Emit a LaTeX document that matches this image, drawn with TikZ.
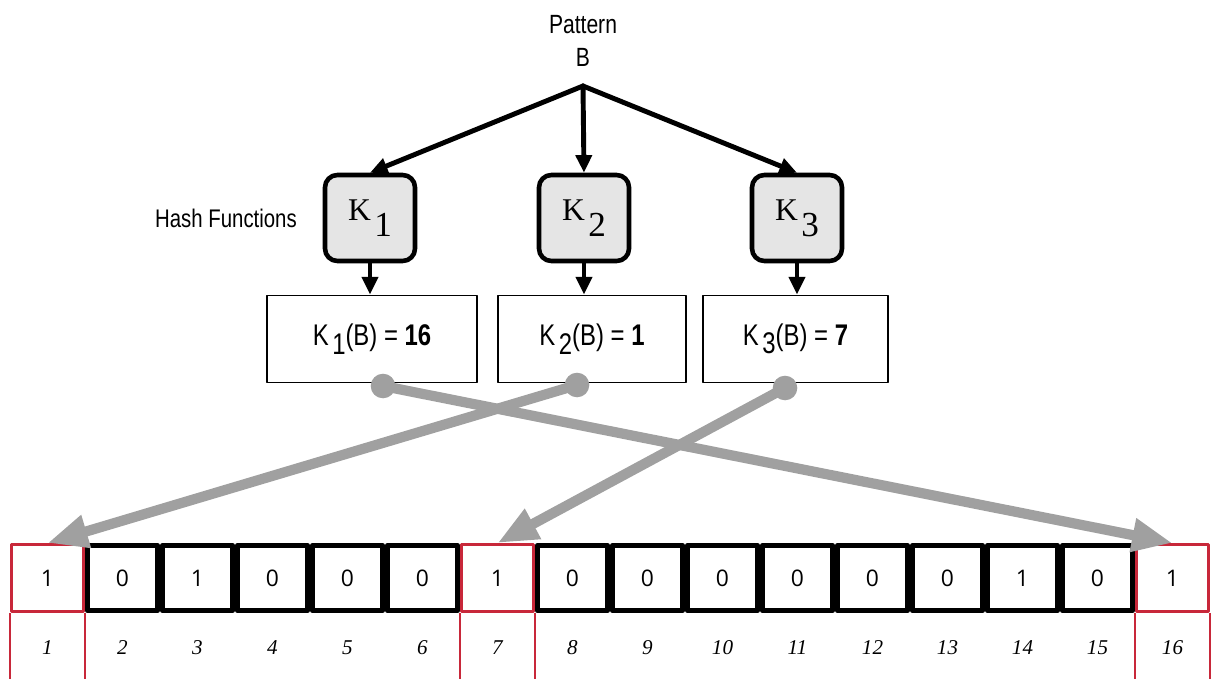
\documentclass[tikz,border=0pt]{standalone}
\usepackage{fontspec}
\usetikzlibrary{arrows.meta}
\setmainfont{Liberation Sans}[FakeStretch=0.8]
\newfontfamily\bitfont{Open Sans}
\newfontfamily\timesfont{Liberation Serif}
\definecolor{hitred}{HTML}{C8283A}
\definecolor{linkgray}{HTML}{A0A0A0}
\newcommand{\hfun}[1]{{\timesfont\fontsize{18}{18}\selectfont K\hspace{2pt}\raisebox{-9pt}{\fontsize{20}{20}\selectfont #1}}}
\newcommand{\hval}[2]{K\hspace{2pt}\raisebox{-.28em}{#1}(B) = \textbf{#2}}
\begin{document}
\begin{tikzpicture}[x=0.02cm,y=-0.02cm,>={Triangle[length=10pt,width=9pt]},line join=round,line cap=round,
	hashbox/.style={draw,line width=2.6pt,rounded corners=7pt,fill=gray!20,minimum width=1.8cm,minimum height=1.72cm,inner sep=0pt},
	valbox/.style={draw,line width=1.1pt,minimum height=1.74cm,inner sep=0pt,font=\fontsize{17}{17}\selectfont},
	bitcell/.style={draw,line width=2.6pt,minimum width=1.5cm-2.6pt,minimum height=1.4cm-2.6pt,inner sep=0pt,font=\bitfont\fontsize{13}{13}\selectfont},
	hitcell/.style={bitcell,draw=hitred,line width=1.8pt,minimum width=1.5cm-1.8pt,minimum height=1.4cm-1.8pt},
	idx/.style={font=\timesfont\itshape\fontsize{12}{12}\selectfont},
	link/.style={draw=linkgray,line width=5.8pt,line cap=butt,-{Triangle[length=23pt,width=18pt]}}]
	
	\useasboundingbox (0,0) rectangle (1211,679);
	\node[align=center,font=\fontsize{15}{19}\selectfont] (pat) at (583,41) {Pattern\\B};
	\coordinate (apex) at (583,86);
	\node[font=\fontsize{14.5}{15}\selectfont] (hashlbl) at (226,218) {Hash Functions};
	
	% hash functions and their values
	\node[hashbox] (k1) at (370,218) {\hfun{1}};
	\node[hashbox] (k2) at (584,218) {\hfun{2}};
	\node[hashbox] (k3) at (797,218) {\hfun{3}};
	\node[valbox,minimum width=4.2cm] (v1) at (372,339) {\hval{1}{16}};
	\node[valbox,minimum width=3.76cm] (v2) at (592,339) {\hval{2}{1}};
	\node[valbox,minimum width=3.7cm] (v3) at (795.5,339) {\hval{3}{7}};
	\foreach \i in {1,2,3}{
		\draw[->,line width=2.8pt] (apex) -- (k\i.north);
		\draw[->,line width=2.8pt] (k\i.south) -- (k\i.south |- v\i.north);
	}
	
	% bit array
	\coordinate (floor) at (0,679);
	\foreach \b/\s [count=\i] in {1/hitcell,0/bitcell,1/bitcell,0/bitcell,0/bitcell,0/bitcell,1/hitcell,0/bitcell,0/bitcell,0/bitcell,0/bitcell,0/bitcell,0/bitcell,1/bitcell,0/bitcell,1/hitcell}{
		\node[\s] (c\i) at ({75*\i-27.5},578) {\b};
		\node[idx] (n\i) at ({75*\i-27.5},648) {\i};
	}
	\foreach \i in {1,7,16}
		\draw[hitred,line width=1.2pt,line cap=butt] (c\i.south west) -- (c\i.south west |- floor) (c\i.south east) -- (c\i.south east |- floor);
	
	% links from values to bits
	\coordinate (d1) at (383,386);
	\coordinate (d2) at (577,385);
	\coordinate (d3) at (785,388);
	\foreach \i in {1,2,3} \fill[linkgray] (d\i) circle[radius=7pt];
	\draw[link] (d1) -- (c16.north);
	\draw[link] (d2) -- (c1.north);
	\draw[link] (d3) -- (c7.north);
\end{tikzpicture}
\end{document}
